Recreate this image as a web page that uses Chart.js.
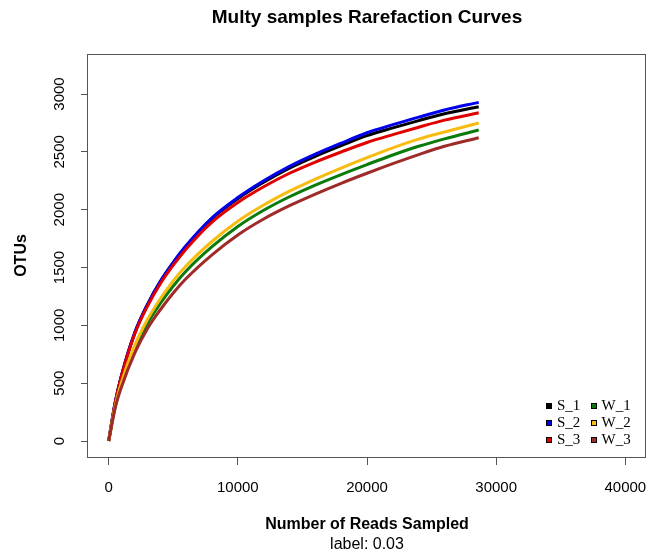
<!DOCTYPE html>
<html>
<head>
<meta charset="utf-8">
<title>Multy samples Rarefaction Curves</title>
<script src="https://cdn.jsdelivr.net/npm/chart.js@4.4.1/dist/chart.umd.min.js"></script>
<style>
  html, body { margin: 0; padding: 0; background: #fff; }
  #wrap { width: 649px; height: 555px; }
</style>
</head>
<body>
<div id="wrap"><canvas id="myChart" width="649" height="555"></canvas></div>
<script>
'use strict';

// number of reads sampled (x) and OTUs seen (y)
const reads = [0, 500, 1000, 2000, 3000, 4000, 5000, 6000, 8000, 10000, 12000, 14000, 16000, 18000, 20000, 22000, 24000, 26000, 28650];
const S_1 = [0, 330, 570, 930, 1180, 1380, 1542, 1685, 1922, 2095, 2237, 2359, 2461, 2553, 2640, 2707, 2770, 2829, 2890];
const S_2 = [0, 330, 570, 930, 1180, 1380, 1545, 1690, 1930, 2105, 2250, 2375, 2480, 2575, 2665, 2735, 2800, 2862, 2928];
const S_3 = [0, 328, 565, 920, 1165, 1360, 1520, 1660, 1892, 2062, 2198, 2315, 2412, 2499, 2581, 2649, 2713, 2774, 2838];
const W_1 = [0, 295, 495, 790, 1015, 1190, 1340, 1470, 1680, 1855, 1995, 2112, 2213, 2304, 2390, 2473, 2548, 2612, 2689];
const W_2 = [0, 300, 510, 820, 1050, 1230, 1385, 1515, 1725, 1900, 2040, 2160, 2265, 2360, 2450, 2535, 2610, 2672, 2749];
const W_3 = [0, 285, 470, 755, 970, 1135, 1280, 1405, 1610, 1782, 1920, 2035, 2135, 2228, 2315, 2398, 2476, 2548, 2622];

const sampleNames = ['S_1', 'S_2', 'S_3', 'W_1', 'W_2', 'W_3'];
const sampleValues = [S_1, S_2, S_3, W_1, W_2, W_3];
const sampleColors = ['#000000', '#0000EE', '#E00000', '#0A7A0A', '#F8BC10', '#9E2A2A'];

const xTicks = [0, 10000, 20000, 30000, 40000];
const yTicks = [0, 500, 1000, 1500, 2000, 2500, 3000];

const sans = '"Liberation Sans", Arial, Helvetica, sans-serif';

const datasets = sampleNames.map((name, i) => ({
    label: name,
    data: reads.map((r, j) => ({ x: r, y: sampleValues[i][j] })),
    borderColor: sampleColors[i],
    backgroundColor: sampleColors[i],
    borderWidth: 3,
    pointRadius: 0,
    fill: false,
    cubicInterpolationMode: 'monotone',
    order: sampleNames.length - i   // later samples drawn on top, like R
}));

// box, titles and the two-column legend inside the plot
const decorations = {
    id: 'decorations',
    afterDraw(chart) {
        const ctx = chart.ctx;
        const a = chart.chartArea;
        const cx = (a.left + a.right) / 2;
        ctx.save();
        ctx.strokeStyle = '#555';
        ctx.lineWidth = 1;
        ctx.strokeRect(Math.round(a.left) - 0.5, Math.round(a.top) + 0.5,
            Math.round(a.right - a.left), Math.round(a.bottom - a.top));

        ctx.fillStyle = '#000';
        ctx.textAlign = 'center';
        ctx.textBaseline = 'middle';
        ctx.font = 'bold 19px ' + sans;
        ctx.fillText('Multy samples Rarefaction Curves', cx, 18);
        ctx.font = '16px ' + sans;
        ctx.fillText('label: 0.03', cx, 545);

        ctx.font = '15px "Liberation Serif", "Times New Roman", serif';
        ctx.textAlign = 'left';
        const rows = [a.bottom - 51.5, a.bottom - 34.5, a.bottom - 17.5];
        const cols = [a.right - 97, a.right - 52.5];
        chart.data.datasets.forEach((ds, i) => {
            const col = Math.floor(i / 3), row = i % 3;
            const sx = cols[col], sy = rows[row];
            ctx.fillStyle = '#000';
            ctx.fillRect(Math.round(sx) - 3, Math.round(sy) - 3, 6, 6);
            ctx.fillStyle = ds.borderColor;
            ctx.fillRect(Math.round(sx) - 2, Math.round(sy) - 2, 4, 4);
            ctx.fillStyle = '#000';
            ctx.fillText(ds.label, sx + 8, sy + 1);
        });
        ctx.restore();
    }
};

const ctx = document.getElementById('myChart');
new Chart(ctx, {
    type: 'line',
    data: { datasets: datasets },
    options: {
        responsive: false,
        animation: false,
        layout: { padding: { top: 54, right: 3, left: 0, bottom: 0 } },
        plugins: {
            legend: { display: false },
            tooltip: { enabled: false }
        },
        scales: {
            x: {
                type: 'linear',
                min: -1600,
                max: 41600,
                afterBuildTicks: s => { s.ticks = xTicks.map(v => ({ value: v })); },
                afterFit: s => { s.height = 98; s.paddingLeft = 0; s.paddingRight = 0; },
                grid: { drawOnChartArea: false, drawTicks: true, tickLength: 8, color: '#555' },
                border: { display: false },
                ticks: {
                    font: { size: 15, family: sans },
                    color: '#000',
                    padding: 14,
                    maxRotation: 0,
                    autoSkip: false,
                    callback: v => String(v)
                },
                title: {
                    display: true,
                    text: 'Number of Reads Sampled',
                    font: { size: 16, weight: 'bold', family: sans },
                    color: '#000',
                    padding: { top: 0, bottom: 21 }
                }
            },
            y: {
                type: 'linear',
                min: -138,
                max: 3346,
                afterBuildTicks: s => { s.ticks = yTicks.map(v => ({ value: v })); },
                afterFit: s => { s.width = 88; s.paddingTop = 0; s.paddingBottom = 0; },
                grid: { drawOnChartArea: false, drawTicks: true, tickLength: 7, color: '#555' },
                border: { display: false },
                ticks: {
                    font: { size: 15, family: sans },
                    color: '#000',
                    padding: 4,
                    minRotation: 90,
                    maxRotation: 90,
                    crossAlign: 'center',
                    callback: v => String(v)
                },
                title: {
                    display: true,
                    text: 'OTUs',
                    font: { size: 16, weight: 'bold', family: sans },
                    color: '#000',
                    padding: { top: 12, bottom: 0 }
                }
            }
        }
    },
    plugins: [decorations]
});
</script>
</body>
</html>
